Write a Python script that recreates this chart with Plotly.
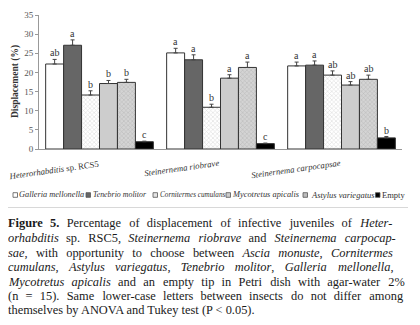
import plotly.graph_objects as go

species = ["<i>Heterorhabditis</i> sp. RCS5", "<i>Steinernema riobrave</i>", "<i>Steinernema carpocapsae</i>"]
series_names = ["Galleria mellonella", "Tenebrio molitor", "Cornitermes cumulans",
                "Mycotretus apicalis", "Astylus variegatus", "Empty"]

galleria = [22.2, 25.1, 21.7]
tenebrio = [27.1, 23.3, 21.9]
cornitermes = [14.1, 10.9, 19.3]
mycotretus = [17.1, 18.5, 16.7]
astylus = [17.4, 21.3, 18.2]
empty = [1.9, 1.4, 2.9]

galleria_err = [1.2, 1.2, 1.0]
tenebrio_err = [1.4, 1.3, 1.1]
cornitermes_err = [1.1, 0.8, 1.1]
mycotretus_err = [0.8, 0.9, 0.9]
astylus_err = [0.8, 1.4, 1.1]
empty_err = [0.15, 0.15, 0.35]

galleria_letters = ["ab", "a", "a"]
tenebrio_letters = ["a", "a", "a"]
cornitermes_letters = ["b", "b", "ab"]
mycotretus_letters = ["b", "a", "ab"]
astylus_letters = ["b", "a", "ab"]
empty_letters = ["c", "c", "b"]

caption_lines = [
    "<b>Figure 5.</b> Percentage of displacement of infective juveniles of <i>Heter-</i>",
    "<i>orhabditis</i> sp. RSC5, <i>Steinernema riobrave</i> and <i>Steinernema carpocap-</i>",
    "<i>sae</i>, with opportunity to choose between <i>Ascia monuste</i>, <i>Cornitermes</i>",
    "<i>cumulans</i>, <i>Astylus variegatus</i>, <i>Tenebrio molitor</i>, <i>Galleria mellonella</i>,",
    "<i>Mycotretus apicalis</i> and an empty tip in Petri dish with agar-water 2%",
    "(n = 15). Same lower-case letters between insects do not differ among",
    "themselves by ANOVA and Tukey test (P &lt; 0.05).",
]
# extra pixels needed to justify each caption line (last line is not justified)
caption_extra_px = [41, 33, 41, 44, 48, 48, 0]

SERIF = "Liberation Serif, Times New Roman, serif"
CAP_SIZE = 12.4
HAIR_PX = 0.083 * CAP_SIZE


def justify(line, extra_px):
    words = line.split(" ")
    gaps = len(words) - 1
    if gaps <= 0 or extra_px <= 0:
        return line
    total = int(round(extra_px / HAIR_PX))
    out = words[0]
    for g in range(gaps):
        k = total * (g + 1) // gaps - total * g // gaps
        out += " " + "\u200a" * k + words[g + 1]
    return out


values = [galleria, tenebrio, cornitermes, mycotretus, astylus, empty]
errors = [galleria_err, tenebrio_err, cornitermes_err, mycotretus_err, astylus_err, empty_err]
letters = [galleria_letters, tenebrio_letters, cornitermes_letters, mycotretus_letters,
           astylus_letters, empty_letters]

styles = [
    dict(color="white"),
    dict(color="#666666"),
    dict(color="white", pattern=dict(shape="x", fgcolor="#b8b8b8", bgcolor="white", size=3, solidity=0.35)),
    dict(color="#cdcdcd"),
    dict(color="#cdcdcd", pattern=dict(shape="x", fgcolor="#a0a0a0", bgcolor="#d4d4d4", size=3, solidity=0.35)),
    dict(color="black"),
]
legend_fill = ["white", "#666666", "#e4e4e4", "#cdcdcd", "#bdbdbd", "black"]

fig = go.Figure()
cats = [0, 1, 2]
for k, name in enumerate(series_names):
    st = styles[k]
    marker = dict(color=st["color"], line=dict(color="#333333", width=1))
    if "pattern" in st:
        marker["pattern"] = st["pattern"]
    fig.add_trace(go.Bar(
        x=cats, y=values[k], name=name, marker=marker, showlegend=False,
        error_y=dict(type="data", array=errors[k], arrayminus=[0, 0, 0], symmetric=False,
                     color="#444444", thickness=1, width=2),
    ))

bargap = 0.11
n = len(series_names)
w = (1 - bargap) / n
annotations = []
for k in range(n):
    for i in cats:
        xpos = i - (1 - bargap) / 2 + w * (k + 0.5)
        annotations.append(dict(
            x=xpos, y=values[k][i] + errors[k][i], xref="x", yref="y",
            text=letters[k][i], showarrow=False, yanchor="bottom", yshift=-1,
            font=dict(family=SERIF, size=10, color="#333333"),
        ))

# category labels (rotated)
for i in cats:
    annotations.append(dict(
        x=i, y=0, xref="x", yref="y", text=species[i], showarrow=False,
        xanchor="right", yanchor="top", yshift=-7, xshift=2, textangle=-8,
        font=dict(family=SERIF, size=8.7, color="#333333"),
    ))

# y-axis title
annotations.append(dict(
    x=-24 / 363.0, y=0.5, xref="paper", yref="paper", text="<b>Displacement (%)</b>",
    showarrow=False, textangle=-90, xanchor="center", yanchor="middle",
    font=dict(family=SERIF, size=9.5, color="#333333"),
))

# legend (manual)
legend_sq_x = [13, 86, 153, 226, 303, 375.5]
legend_tx_x = [17.5, 92, 159, 230.5, 310, 381]
legend_size = [8.3, 7.9, 7.2, 8.4, 8.5, 8.5]
legend_y = 195
shapes = []
for k, name in enumerate(series_names):
    x0 = legend_sq_x[k]
    shapes.append(dict(type="rect", xref="paper", yref="paper",
                       x0=(x0 - 39) / 363.0, x1=(x0 + 4.5 - 39) / 363.0,
                       y0=(149 - (legend_y + 2.3)) / 134.0, y1=(149 - (legend_y - 2.3)) / 134.0,
                       line=dict(color="#555555", width=0.8), fillcolor=legend_fill[k]))
    label = name if name == "Empty" else "<i>" + name + "</i>"
    annotations.append(dict(
        x=(legend_tx_x[k] - 39) / 363.0, y=(149 - legend_y) / 134.0, xref="paper", yref="paper",
        text=label, showarrow=False, xanchor="left", yanchor="middle", xshift=-1,
        font=dict(family=SERIF, size=legend_size[k], color="#333333"),
    ))

# separator line
shapes.append(dict(type="line", xref="paper", yref="paper",
                   x0=(8 - 39) / 363.0, x1=(408 - 39) / 363.0,
                   y0=(149 - 207.5) / 134.0, y1=(149 - 207.5) / 134.0,
                   line=dict(color="#d8d8d8", width=1)))

# caption
cap_y = [223.3, 238.0, 252.5, 267.0, 281.5, 296.0, 310.3]
for j, line in enumerate(caption_lines):
    annotations.append(dict(
        x=(6 - 39) / 363.0, y=(149 - cap_y[j]) / 134.0, xref="paper", yref="paper",
        text=justify(line, caption_extra_px[j]), showarrow=False, xanchor="left", yanchor="middle",
        font=dict(family=SERIF, size=CAP_SIZE, color="#1a1a1a"),
    ))

# page body keeps an 8px margin, so the figure is drawn 8px smaller
fig.update_layout(
    width=412, height=317,
    margin=dict(l=31, r=18, t=7, b=176, pad=0, autoexpand=False),
    paper_bgcolor="white", plot_bgcolor="white",
    barmode="group", bargap=bargap, bargroupgap=0,
    showlegend=False,
    annotations=annotations, shapes=shapes,
    xaxis=dict(range=[-0.5, 2.5], showticklabels=False, ticks="", showline=True, automargin=False,
               linecolor="#999999", linewidth=1, showgrid=False, zeroline=False),
    yaxis=dict(range=[0, 35], dtick=5, ticks="outside", ticklen=3, tickcolor="#999999",
               showline=True, linecolor="#999999", linewidth=1, showgrid=False, zeroline=False,
               automargin=False,
               tickfont=dict(family=SERIF, size=9, color="#555555")),
)

fig.write_html("out.html")
